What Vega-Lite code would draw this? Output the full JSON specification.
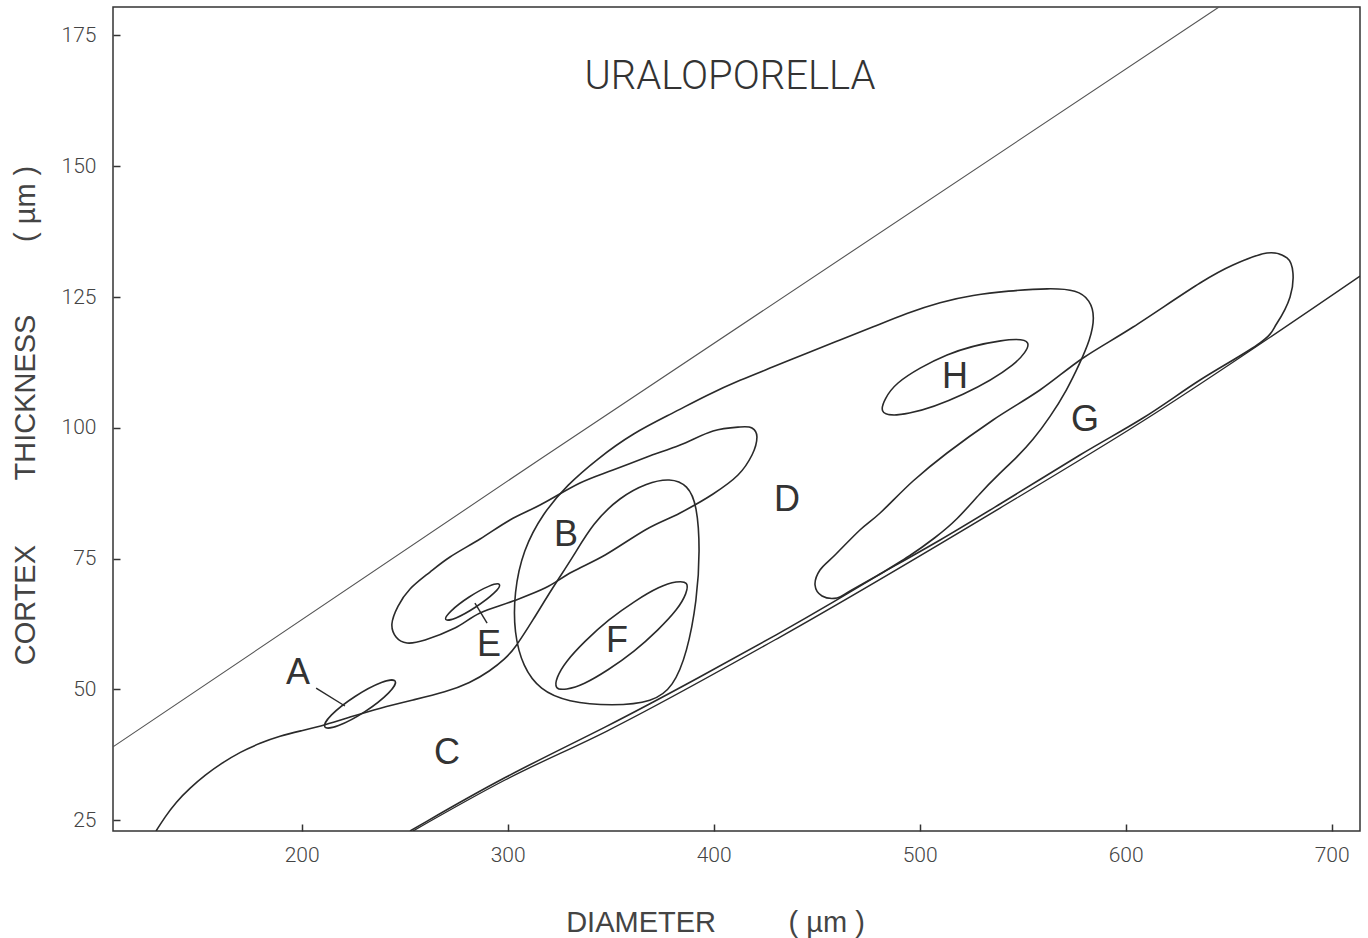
{
 "$schema": "https://vega.github.io/schema/vega-lite/v6.json",
 "width": 1247, "height": 824,
 "autosize": {"type": "none"},
 "padding": {"left": 113, "top": 7, "right": 8, "bottom": 107},
 "background": "white",
 "config": {
  "view": {"stroke": "#333", "strokeWidth": 1.5},
  "axis": {"domain": false, "grid": false, "tickSize": -7, "tickWidth": 1.5, "tickColor": "#333",
   "labelFont": "Roboto", "labelFontWeight": 300, "labelFontSize": 21, "labelColor": "#444", "labelFlush": false, "labelOverlap": false, "labelBound": false,
   "titleFont": "Liberation Sans", "titleFontSize": 29, "titleFontWeight": "normal", "titleColor": "#444"}
 },
 "datasets": {
  "upper": [{"x":108.4,"y":39.0,"o":1},{"x":315.7,"y":94.0,"o":2},{"x":645.3,"y":180.44,"o":3}],
  "segs": [
   {"id":"low","o":1,"x":254.0,"y":22.92},{"id":"low","o":2,"x":298.7,"y":32.67},{"id":"low","o":3,"x":348.2,"y":42.03},{"id":"low","o":4,"x":432.2,"y":60.0},{"id":"low","o":5,"x":539.0,"y":84.66},{"id":"low","o":6,"x":608.4,"y":101.3},{"id":"low","o":7,"x":713.75,"y":129.0},
   {"id":"pa","o":1,"x":207.0,"y":50.25},{"id":"pa","o":2,"x":221.0,"y":46.81},
   {"id":"pe","o":1,"x":284.1,"y":66.5},{"id":"pe","o":2,"x":290.0,"y":62.68}
  ],
  "outline": [
   {"o":1,"x":129.3,"y":22.92},{"o":2,"x":133.6,"y":25.59},{"o":3,"x":139.0,"y":28.46},{"o":4,"x":145.8,"y":31.14},{"o":5,"x":153.1,"y":33.62},{"o":6,"x":161.3,"y":35.92},{"o":7,"x":170.1,"y":38.02},{"o":8,"x":179.8,"y":39.74},{"o":9,"x":189.5,"y":41.08},{"o":10,"x":199.2,"y":42.03},
   {"o":11,"x":211.3,"y":43.18},{"o":11.5,"x":223.5,"y":44.71},{"o":12,"x":238.0,"y":46.43},{"o":13,"x":254.0,"y":47.96},{"o":14,"x":270.1,"y":49.49},{"o":15,"x":281.7,"y":51.21},{"o":16,"x":291.4,"y":53.5},{"o":17,"x":298.7,"y":55.8},{"o":18,"x":303.6,"y":57.9},{"o":19,"x":312.3,"y":63.25},{"o":20,"x":322.0,"y":69.56},
   {"o":21,"x":331.7,"y":75.3},{"o":22,"x":341.4,"y":81.8},{"o":23,"x":354.5,"y":86.77},{"o":24,"x":367.6,"y":89.44},{"o":25,"x":378.8,"y":90.4},{"o":26,"x":387.5,"y":89.06},{"o":27,"x":391.9,"y":85.24},{"o":28,"x":393.4,"y":76.63},{"o":29,"x":391.9,"y":67.08},{"o":30,"x":387.1,"y":56.94},
   {"o":31,"x":380.3,"y":50.44},{"o":32,"x":370.6,"y":47.58},{"o":33,"x":351.1,"y":46.81},{"o":34,"x":328.8,"y":47.58},{"o":35,"x":315.7,"y":49.87},{"o":36,"x":307.4,"y":54.27},{"o":37,"x":303.1,"y":60.77},{"o":38,"x":303.1,"y":68.41},{"o":39,"x":307.4,"y":76.63},{"o":40,"x":317.2,"y":83.71},
   {"o":41,"x":328.8,"y":89.06},{"o":42,"x":343.4,"y":94.03},{"o":43,"x":360.8,"y":99.0},{"o":44,"x":380.3,"y":102.82},{"o":45,"x":396.8,"y":106.27},{"o":46,"x":412.8,"y":109.13},{"o":47,"x":428.8,"y":111.62},{"o":48,"x":445.3,"y":114.3},{"o":49,"x":461.3,"y":116.78},{"o":50,"x":477.4,"y":119.27},
   {"o":51,"x":493.9,"y":121.94},{"o":52,"x":509.9,"y":124.04},{"o":53,"x":525.9,"y":125.38},{"o":54,"x":542.4,"y":126.15},{"o":55,"x":563.3,"y":126.72},{"o":56,"x":576.4,"y":126.34},{"o":57,"x":582.7,"y":124.43},{"o":58,"x":585.1,"y":121.18},{"o":59,"x":582.7,"y":116.78},{"o":60,"x":577.8,"y":112.38},
   {"o":61,"x":571.5,"y":107.22},{"o":62,"x":563.3,"y":102.06},{"o":63,"x":555.0,"y":97.66},{"o":64,"x":547.3,"y":94.41},{"o":65,"x":539.0,"y":91.36},{"o":66,"x":529.3,"y":87.53},{"o":67,"x":518.1,"y":82.37},{"o":68,"x":507.4,"y":78.93},{"o":69,"x":495.3,"y":75.49},{"o":70,"x":480.8,"y":72.05},
   {"o":71,"x":459.9,"y":67.08},{"o":72,"x":432.2,"y":60.77},{"o":73,"x":393.4,"y":52.36},{"o":74,"x":348.2,"y":42.8},{"o":75,"x":298.7,"y":33.43},{"o":76,"x":252.6,"y":22.92}
  ],
  "loops": [
   {"id":"A","o":1,"x":245.4,"y":51.57},{"id":"A","o":2,"x":242.1,"y":49.28},{"id":"A","o":3,"x":230.7,"y":45.74},{"id":"A","o":4,"x":217.9,"y":43.08},{"id":"A","o":5,"x":211.2,"y":42.82},{"id":"A","o":6,"x":214.5,"y":45.11},{"id":"A","o":7,"x":225.9,"y":48.63},{"id":"A","o":8,"x":238.7,"y":51.3},
   {"id":"E","o":1,"x":296.0,"y":70.02},{"id":"E","o":2,"x":293.3,"y":68.38},{"id":"E","o":3,"x":284.5,"y":65.74},{"id":"E","o":4,"x":274.9,"y":63.65},{"id":"E","o":5,"x":269.9,"y":63.37},{"id":"E","o":6,"x":272.6,"y":65.01},{"id":"E","o":7,"x":281.3,"y":67.65},{"id":"E","o":8,"x":291.0,"y":69.73},
   {"id":"H","o":1,"x":552.4,"y":116.17},{"id":"H","o":2,"x":544.8,"y":111.94},{"id":"H","o":3,"x":521.0,"y":106.42},{"id":"H","o":4,"x":495.0,"y":102.81},{"id":"H","o":5,"x":482.0,"y":103.25},{"id":"H","o":6,"x":489.5,"y":108.56},{"id":"H","o":7,"x":513.3,"y":113.91},{"id":"H","o":8,"x":539.3,"y":116.61},
   {"id":"F","o":1,"x":386.7,"y":70.21},{"id":"F","o":2,"x":381.8,"y":65.2},{"id":"F","o":3,"x":361.3,"y":57.31},{"id":"F","o":4,"x":337.3,"y":51.17},{"id":"F","o":5,"x":323.8,"y":50.37},{"id":"F","o":6,"x":328.8,"y":55.38},{"id":"F","o":7,"x":349.2,"y":63.27},{"id":"F","o":8,"x":373.2,"y":69.41},
   {"id":"B","o":1,"x":421.0,"y":98.24},{"id":"B","o":2,"x":418.6,"y":99.96},{"id":"B","o":3,"x":412.8,"y":100.15},{"id":"B","o":4,"x":399.7,"y":99.38},{"id":"B","o":5,"x":383.7,"y":96.71},{"id":"B","o":6,"x":367.6,"y":94.41},{"id":"B","o":7,"x":351.1,"y":91.93},{"id":"B","o":8,"x":335.1,"y":89.44},{"id":"B","o":9,"x":315.7,"y":85.24},{"id":"B","o":10,"x":301.1,"y":82.37},
   {"id":"B","o":11,"x":286.6,"y":78.74},{"id":"B","o":12,"x":272.0,"y":75.3},{"id":"B","o":13,"x":262.3,"y":72.43},{"id":"B","o":14,"x":252.6,"y":69.18},{"id":"B","o":15,"x":246.8,"y":65.93},{"id":"B","o":16,"x":243.8,"y":62.49},{"id":"B","o":17,"x":245.8,"y":60.0},{"id":"B","o":18,"x":251.1,"y":58.86},{"id":"B","o":19,"x":259.9,"y":59.43},{"id":"B","o":20,"x":274.4,"y":61.72},
   {"id":"B","o":21,"x":286.6,"y":64.59},{"id":"B","o":22,"x":302.6,"y":66.88},{"id":"B","o":23,"x":318.1,"y":69.37},{"id":"B","o":24,"x":331.2,"y":72.43},{"id":"B","o":25,"x":347.3,"y":75.68},{"id":"B","o":26,"x":367.6,"y":80.65},{"id":"B","o":27,"x":383.7,"y":83.71},{"id":"B","o":28,"x":399.7,"y":87.34},{"id":"B","o":29,"x":411.8,"y":90.97},{"id":"B","o":30,"x":418.6,"y":94.8},
   {"id":"G","o":1,"x":668.6,"y":133.41},{"id":"G","o":2,"x":678.3,"y":132.46},{"id":"G","o":3,"x":681.2,"y":129.59},{"id":"G","o":4,"x":679.8,"y":125.0},{"id":"G","o":5,"x":673.5,"y":120.03},{"id":"G","o":6,"x":665.2,"y":116.21},{"id":"G","o":7,"x":636.1,"y":109.13},{"id":"G","o":8,"x":608.4,"y":101.87},{"id":"G","o":9,"x":577.8,"y":94.8},{"id":"G","o":10,"x":539.0,"y":85.43},
   {"id":"G","o":11,"x":509.9,"y":78.55},{"id":"G","o":12,"x":480.8,"y":72.05},{"id":"G","o":13,"x":466.2,"y":68.8},{"id":"G","o":14,"x":459.9,"y":67.46},{"id":"G","o":15,"x":452.6,"y":67.84},{"id":"G","o":16,"x":449.2,"y":69.94},{"id":"G","o":17,"x":451.6,"y":72.81},{"id":"G","o":18,"x":458.9,"y":75.68},{"id":"G","o":19,"x":471.0,"y":80.46},{"id":"G","o":20,"x":480.8,"y":83.71},
   {"id":"G","o":21,"x":496.8,"y":89.83},{"id":"G","o":22,"x":513.3,"y":95.18},{"id":"G","o":23,"x":535.6,"y":101.49},{"id":"G","o":24,"x":558.4,"y":107.22},{"id":"G","o":25,"x":579.3,"y":113.34},{"id":"G","o":26,"x":603.6,"y":119.27},{"id":"G","o":27,"x":636.1,"y":127.68},{"id":"G","o":28,"x":652.1,"y":131.12}
  ],
  "labels": [
   {"t":"A","x":198.2,"y":53.12},{"t":"B","x":328.3,"y":79.5},{"t":"C","x":270.5,"y":37.83},{"t":"D","x":435.6,"y":86.19},
   {"t":"E","x":290.9,"y":58.47},{"t":"F","x":353.1,"y":59.24},{"t":"G","x":580.3,"y":101.49},{"t":"H","x":517.2,"y":109.71}
  ],
  "title": [{"t":"URALOPORELLA","x":407.9,"y":167.06}]
 },
 "encoding": {
  "x": {"field": "x", "type": "quantitative",
   "scale": {"domain": [108.4, 713.75], "nice": false, "zero": false},
   "axis": {"values": [200, 300, 400, 500, 600, 700], "labelPadding": 20,
    "title": "DIAMETER\u00a0\u00a0\u00a0\u00a0\u00a0\u00a0\u00a0\u00a0\u00a0( µm )",
    "titleX": 602, "titleY": 91, "titleBaseline": "middle", "titleAlign": "center"}},
  "y": {"field": "y", "type": "quantitative",
   "scale": {"domain": [22.92, 180.44], "nice": false, "zero": false},
   "axis": {"values": [25, 50, 75, 100, 125, 150, 175], "labelPadding": 24,
    "title": "CORTEX\u00a0\u00a0\u00a0\u00a0\u00a0\u00a0\u00a0\u00a0THICKNESS\u00a0\u00a0\u00a0\u00a0\u00a0\u00a0\u00a0\u00a0\u00a0( µm )",
    "titleX": -88, "titleY": 408, "titleAngle": 270, "titleBaseline": "middle", "titleAlign": "center"}}
 },
 "layer": [
  {"data": {"name": "upper"}, "mark": {"type": "line", "interpolate": "monotone", "stroke": "#555", "strokeWidth": 1.1, "clip": true},
   "encoding": {"order": {"field": "o", "type": "quantitative"}}},
  {"data": {"name": "segs"}, "mark": {"type": "line", "interpolate": "monotone", "stroke": "#2a2a2a", "strokeWidth": 1.4, "clip": true},
   "encoding": {"detail": {"field": "id"}, "order": {"field": "o", "type": "quantitative"}}},
  {"data": {"name": "outline"}, "mark": {"type": "line", "interpolate": "basis", "stroke": "#2a2a2a", "strokeWidth": 1.6, "clip": true},
   "encoding": {"order": {"field": "o", "type": "quantitative"}}},
  {"data": {"name": "loops"}, "mark": {"type": "line", "interpolate": "cardinal-closed", "stroke": "#2a2a2a", "strokeWidth": 1.6, "clip": true},
   "encoding": {"detail": {"field": "id"}, "order": {"field": "o", "type": "quantitative"}}},
  {"data": {"name": "labels"}, "mark": {"type": "text", "font": "Liberation Sans", "fontSize": 36, "color": "#333", "align": "center", "baseline": "middle"},
   "encoding": {"text": {"field": "t"}}},
  {"data": {"name": "title"}, "mark": {"type": "text", "font": "Roboto", "fontWeight": 300, "fontSize": 40, "color": "#333", "align": "center", "baseline": "middle"},
   "encoding": {"text": {"field": "t"}}}
 ]
}
